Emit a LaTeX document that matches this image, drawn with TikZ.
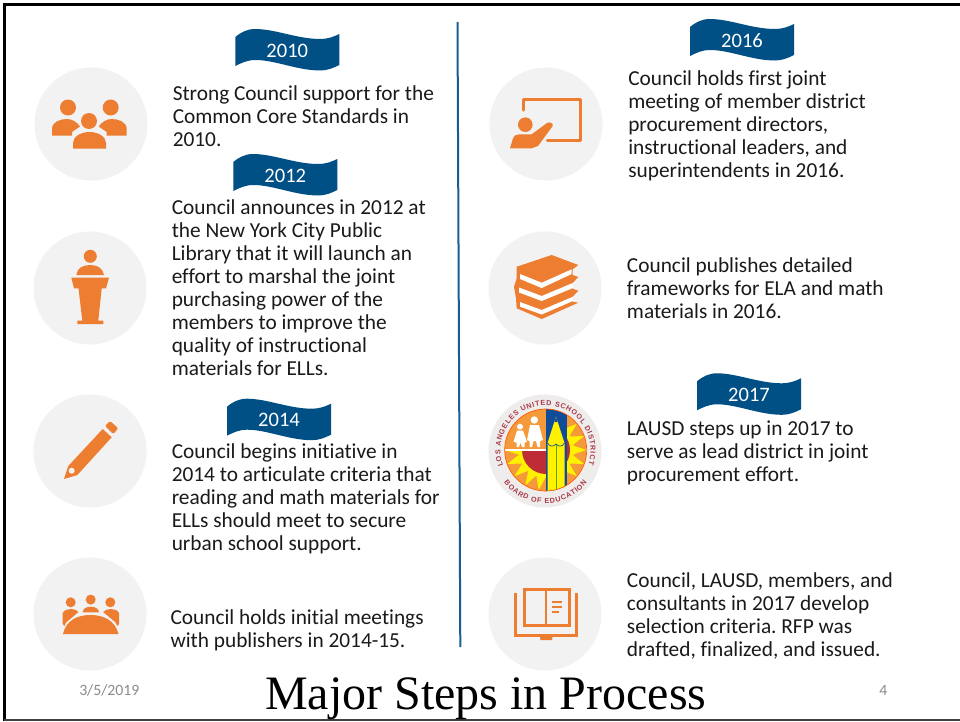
\documentclass[tikz,border=0pt]{standalone}
\usepackage{fontspec}
\setmainfont{Carlito}[Ligatures=NoCommon]
\newfontfamily\titlefont{Liberation Serif}
\newfontfamily\sealfont{Liberation Sans}
\usetikzlibrary{decorations.text}
\frenchspacing
\definecolor{icono}{HTML}{ED7D31}
\definecolor{disc}{HTML}{F2F2F2}
\definecolor{flagblue}{HTML}{004F85}
\definecolor{rulecol}{HTML}{1A5E90}
\definecolor{ink}{HTML}{1A1A1A}
\definecolor{foot}{HTML}{8B8B8B}
\definecolor{sealorange}{HTML}{F59A3A}
\definecolor{sealyellow}{HTML}{FFF200}
\definecolor{sealred}{HTML}{BE2C36}
\definecolor{sealblue}{HTML}{0F4C9A}
\definecolor{sealtext}{HTML}{A83A4A}
\definecolor{sealdisc}{HTML}{EFECEC}
\tikzset{
  x=0.75pt,y=-0.75pt,
  bodytext/.style={anchor=north west,inner sep=0pt,text=ink,align=left,font=\fontsize{16}{17.25}\selectfont},
  flagtext/.style={anchor=base,inner sep=0pt,text=white,font=\fontsize{15.4}{17.25}\selectfont},
  foottext/.style={anchor=base west,inner sep=0pt,text=foot,font=\fontsize{11.8}{14}\selectfont},
  titletext/.style={anchor=base west,inner sep=0pt,text=black,font=\fontsize{36}{40}\titlefont},
  iconline/.style={draw=icono,line width=2.5pt,line cap=round,line join=round},
  discshape/.style={circle,fill=disc,draw=none,minimum size=84.8pt,inner sep=0pt},
  sealpath/.style={decorate,decoration={text along path,text align={fit to path},text={|\fontsize{5.4}{6}\sealfont\bfseries\color{sealtext}|#1}}},
}
\newcommand{\FlagBanner}[4]{%
  \begin{scope}[shift={(#2,#3)}]
    \fill[flagblue] (0,8) .. controls (6,3) and (12,0) .. (20,0) .. controls (40,0) and (62,10) .. (85,10) .. controls (92,10) and (98,8) .. (104,5) -- (104,36) .. controls (98,39) and (92,41.5) .. (85,41.5) .. controls (62,41.5) and (40,31) .. (20,31) .. controls (12,31) and (6,34) .. (0,37) -- cycle;
    \node[flagtext] (#1) at (52,28) {#4};
  \end{scope}}
\newcommand{\BodyText}[4]{\node[bodytext] (#1) at (#2,#3-15.9) {\rule{0pt}{12.5pt}#4};}
\begin{document}
\begin{tikzpicture}
\useasboundingbox (0,0) rectangle (960,721);
\fill[white] (0,0) rectangle (960,721);
% frame
\draw[black,line width=1.8pt] (4.5,721) -- (4.5,4.5) -- (960,4.5);
\draw[black!75,line width=1pt] (4,720) -- (960,720);
% divider
\coordinate (ruletop) at (457.5,22);
\coordinate (rulebot) at (460.3,647);
\draw[rulecol,line width=1.5pt] (ruletop) -- (rulebot);
% discs
\node[discshape] (d1) at (91,124) {};
\node[discshape] (d2) at (90,288) {};
\node[discshape] (d3) at (90,451) {};
\node[discshape] (d4) at (90,614) {};
\node[discshape] (d5) at (546,124) {};
\node[discshape] (d6) at (545,288) {};
\node[discshape,fill=sealdisc] (d7) at (545,451) {};
\node[discshape] (d8) at (545,614) {};
% people icon
\fill[icono] (68,107.5) circle[radius=8] (110.7,107.5) circle[radius=8];
\fill[icono] (52,135.7) -- (52,129) .. controls (52,122) and (60,119) .. (67,119) .. controls (72,119) and (77,122) .. (80,126.5) -- (72,132) -- (72,135.7) -- cycle;
\fill[icono] (126.7,135.7) -- (126.7,129) .. controls (126.7,122) and (118.7,119) .. (111.7,119) .. controls (106.7,119) and (101.7,122) .. (98.7,126.5) -- (106.7,132) -- (106.7,135.7) -- cycle;
\fill[icono] (89,121) circle[radius=8];
\fill[icono] (73,148.5) -- (73,143) .. controls (73,136) and (82,132) .. (89.5,132) .. controls (97,132) and (106,136) .. (106,143) -- (106,148.5) -- cycle;
% podium icon
\fill[icono] (90.3,256.3) circle[radius=6.5];
\fill[icono] (76.3,275) .. controls (77,268) and (83,265) .. (90.3,265) .. controls (97,265) and (103,268) .. (104,275) -- cycle;
\fill[icono] (71.3,277.7) -- (109,277.7) -- (106,288.3) -- (101.7,288.3) -- (98.3,320.5) -- (103.3,320.5) -- (103.3,324) -- (77.3,324) -- (77.3,320.5) -- (82.3,320.5) -- (78.5,288.3) -- (74,288.3) -- cycle;
% pencil icon
\fill[icono] (64,479) -- (68.3,466) -- (102.7,429) -- (111.7,437.3) -- (77.3,475) -- cycle;
\fill[icono,rounded corners=1pt] (105,426) -- (110,421) -- (118.3,428.3) -- (113.3,434) -- cycle;
\fill[disc] (71.7,470.7) circle[radius=3];
% meeting icon
\fill[icono] (70.7,602.3) circle[radius=5] (90.7,599.6) circle[radius=5] (110.3,602.3) circle[radius=5];
\fill[icono] (62.7,624) -- (62.7,613) .. controls (64,610) and (68,609) .. (71,609) .. controls (74,609) and (77,610) .. (78.5,612) -- (66,622.5) -- (64.5,626) -- cycle;
\fill[icono] (119,624) -- (119,613) .. controls (117.7,610) and (113.7,609) .. (110.7,609) .. controls (107.7,609) and (104.7,610) .. (103.2,612) -- (115.7,622.5) -- (117.2,626) -- cycle;
\fill[icono] (82.7,612.3) .. controls (83,608) and (87,606.7) .. (90.7,606.7) .. controls (94.5,606.7) and (98.5,608) .. (99,612.3) -- cycle;
\fill[icono] (63,634) .. controls (66,620) and (78,615) .. (90.5,615) .. controls (103,615) and (115,620) .. (118.5,634) -- cycle;
% teaching icon
\draw[iconline] (523.3,110) -- (523.3,99.8) -- (580.3,99.8) -- (580.3,140.8) -- (547.5,140.8);
\fill[icono] (525.3,124.7) circle[radius=7.3];
\fill[icono] (510,148.3) -- (512.7,139.3) .. controls (514,135.5) and (516,134.3) .. (519,134.3) -- (531.7,134.3) -- (547,123) .. controls (549.5,121.5) and (553.5,123) .. (552.7,126) -- (538,146) -- (531.7,148.3) -- cycle;
% books icon
\fill[icono] (516.7,266.7) -- (551.7,255) -- (578.3,265) -- (572.7,269.3) -- (572.7,275) -- (578.3,277) -- (572.7,283) -- (572.7,288.7) -- (578.3,290.7) -- (572.7,296.7) -- (572.7,301.7) -- (578.3,302.7) -- (541.7,319) -- (516.7,308.3) -- (516,298.3) -- (514,286.7) -- (516.7,278.3) -- cycle;
\fill[white] (520,274) -- (541.7,282.7) -- (571.7,269.3) -- (571.7,274) -- (541.7,288) -- (520,279) -- cycle;
\fill[white] (519,287.5) -- (541.7,296) -- (572.7,283) -- (573,288) -- (541.7,301) -- (519,292.5) -- cycle;
\fill[white] (520,302) -- (541.7,310) -- (573,296.7) -- (573,301) -- (541.7,314.5) -- (520,306.7) -- cycle;
% seal
\begin{scope}
  \clip (545.7,450) circle[radius=41];
  \fill[sealorange] (545.7,450) circle[radius=41];
  \foreach \a in {0,20,...,340}{
    \fill[sealyellow] ([shift={(\a-9:21pt)}]545.7,450) -- ([shift={(\a:30.5pt)}]545.7,450) -- ([shift={(\a+9:21pt)}]545.7,450) -- cycle;
  }
  \fill[sealyellow] (546,450) circle[radius=28];
  \fill[sealred] (546,450) circle[radius=24];
  \fill[sealorange] (500,405) rectangle (546,449.5);
  \fill[white] (504,449.2) rectangle (546,450.8);
  \fill[sealblue] (546,405) rectangle (567,495);
  \fill[sealyellow] (556,416.7) -- (564.5,443) -- (564.5,495) -- (547.5,495) -- (547.5,443) -- cycle;
  \draw[black!60!green!60!yellow,line width=.3pt] (556,445) -- (556,495);
  \draw[sealblue,line width=.5pt] (547.5,443) .. controls (550,447) and (553,447) .. (556,444) .. controls (559,447) and (562,447) .. (564.5,443);
  \fill[sealblue] (556,416.7) -- (554.5,422) -- (557.5,422) -- cycle;
  % children
  \fill[white] (534.3,420) circle[radius=3.7] (520,426.7) circle[radius=3];
  \fill[white] (530,425) -- (539,425) -- (543,440) -- (540,441) -- (540,447) -- (537.5,447) -- (536,441) -- (533.5,441) -- (532,447) -- (529.5,447) -- (529.5,441) -- (527,440) -- cycle;
  \fill[white] (517,430.5) -- (523,430.5) -- (527,442) -- (524.5,442.5) -- (524.5,447) -- (522,447) -- (520.5,442.5) -- (519,447) -- (516.5,447) -- (516.5,442.5) -- (513.5,442) -- cycle;
\end{scope}
\draw[orange!70!red,line width=.5pt] (545.7,450) circle[radius=41];
\path[sealpath={LOS ANGELES UNITED SCHOOL DISTRICT}] ([shift={(200:33.8pt)}]545.5,450.5) arc[start angle=200,delta angle=-218,radius=33.8pt];
\path[sealpath={BOARD OF EDUCATION}] ([shift={(218:39.5pt)}]545.5,450.5) arc[start angle=218,delta angle=104,radius=39.5pt];
% open book icon
\draw[icono,line width=2.6pt,line join=miter] (515.3,593.3) -- (515.3,635.7) -- (576.7,635.7) -- (576.7,593.3);
\draw[icono,line width=2.6pt] (524.7,589.7) rectangle (569.7,625.7);
\fill[icono] (544.7,589) rectangle (547.3,626);
\fill[icono] (540,637) -- (552.5,637) -- (552,640) -- (540.5,640) -- cycle;
\draw[icono,line width=1.4pt] (551.7,601.7) -- (562.3,601.7) (551.7,606.7) -- (562.3,606.7) (551.7,611.7) -- (559,611.7);
% banners
\FlagBanner{y2010}{235.3}{29}{2010}
\FlagBanner{y2012}{233.3}{154}{2012}
\FlagBanner{y2014}{227}{398.7}{2014}
\FlagBanner{y2016}{690}{19}{2016}
\FlagBanner{y2017}{697}{373.3}{2017}
% text
\BodyText{t1}{172.5}{99.5}{Strong Council support for the\\Common Core Standards in\\2010.}
\BodyText{t2}{171.5}{213}{Council announces in 2012 at\\the New York City Public\\Library that it will launch an\\effort to marshal the joint\\purchasing power of the\\members to improve the\\quality of instructional\\materials for ELLs.}
\BodyText{t3}{171.5}{457.7}{Council begins initiative in\\2014 to articulate criteria that\\reading and math materials for\\ELLs should meet to secure\\urban school support.}
\BodyText{t4}{170.3}{623}{Council holds initial meetings\\with publishers in 2014-15.}
\BodyText{t5}{628}{84}{Council holds first joint\\meeting of member district\\procurement directors,\\instructional leaders, and\\superintendents in 2016.}
\BodyText{t6}{626.7}{271}{Council publishes detailed\\frameworks for ELA and math\\materials in 2016.}
\BodyText{t7}{626.7}{434}{LAUSD steps up in 2017 to\\serve as lead district in joint\\procurement effort.}
\BodyText{t8}{626.7}{586}{Council, LAUSD, members, and\\consultants in 2017 develop\\selection criteria. RFP was\\drafted, finalized, and issued.}
% footer
\node[foottext] (date) at (79,695) {3/5/2019};
\node[foottext] (page) at (879,695) {4};
\node[titletext] (title) at (265,709.5) {Major Steps in Process};
\end{tikzpicture}
\end{document}
